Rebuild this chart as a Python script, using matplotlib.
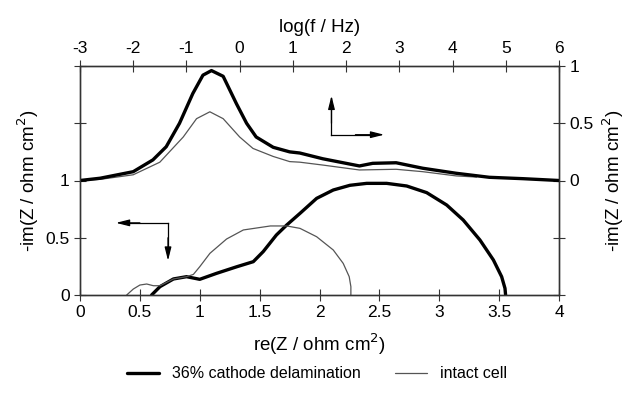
import numpy as np
import matplotlib
matplotlib.use("Agg")
import matplotlib.pyplot as plt

plt.rcParams['font.family'] = ['Liberation Sans', 'DejaVu Sans']
plt.rcParams['axes.unicode_minus'] = False

# Nyquist data (re, -im), ohm cm2
re_del = [0.598, 0.668, 0.78, 0.89, 1.0, 1.14, 1.31, 1.447, 1.53, 1.64, 1.726, 1.837,
          1.976, 2.115, 2.254, 2.394, 2.561, 2.728, 2.895, 3.062, 3.2, 3.34, 3.452,
          3.521, 3.549, 3.554]
im_del = [0.0, 0.073, 0.14, 0.16, 0.137, 0.189, 0.247, 0.291, 0.379, 0.524, 0.611, 0.713,
          0.844, 0.917, 0.958, 0.975, 0.975, 0.952, 0.894, 0.786, 0.655, 0.48, 0.306,
          0.16, 0.058, 0.0]

re_int = [0.39, 0.445, 0.50, 0.557, 0.613, 0.668, 0.78, 0.89, 0.947, 1.0, 1.085, 1.224,
          1.364, 1.59, 1.726, 1.837, 1.976, 2.115, 2.198, 2.248, 2.262, 2.262]
im_int = [0.0, 0.052, 0.087, 0.096, 0.081, 0.081, 0.14, 0.16, 0.18, 0.247, 0.364, 0.489,
          0.568, 0.603, 0.603, 0.582, 0.509, 0.393, 0.276, 0.16, 0.073, 0.0]

# Bode data (log f, -im)
lf_del = [-3.0, -2.62, -2.0, -1.63, -1.38, -1.13, -0.88, -0.69, -0.53, -0.31, -0.06, 0.13,
          0.31, 0.63, 0.94, 1.13, 1.56, 2.25, 2.5, 2.94, 3.44, 4.07, 4.69, 5.32, 6.0]
bd_del = [0.0, 0.02, 0.077, 0.18, 0.295, 0.5, 0.76, 0.92, 0.96, 0.91, 0.67, 0.5,
          0.38, 0.29, 0.25, 0.24, 0.19, 0.127, 0.15, 0.155, 0.107, 0.063, 0.028, 0.016, 0.0]

lf_int = [-3.0, -2.62, -2.0, -1.5, -1.06, -0.81, -0.56, -0.31, 0.0, 0.25, 0.63, 0.94,
          1.13, 1.56, 2.25, 2.94, 3.44, 4.07, 4.45]
bd_int = [0.0, 0.01, 0.05, 0.16, 0.38, 0.54, 0.60, 0.54, 0.38, 0.28, 0.21, 0.165,
          0.16, 0.135, 0.092, 0.098, 0.077, 0.04, 0.03]

fig = plt.figure(figsize=(6.34, 3.97), dpi=100)
ax = fig.add_axes([80/634, 1-295/397, (559-80)/634, (295-66)/397])
ax2 = ax.twinx()
ax3 = ax2.twiny()

lw_thick, lw_thin = 2.4, 0.9
c_thin = '#555555'
kw = dict(solid_joinstyle='round', solid_capstyle='round')

l1, = ax.plot(re_del, im_del, color='black', lw=lw_thick, **kw)
l2, = ax.plot(re_int, im_int, color=c_thin, lw=lw_thin, **kw)
ax3.plot(lf_int, bd_int, color=c_thin, lw=lw_thin, **kw)
ax3.plot(lf_del, bd_del, color='black', lw=lw_thick, **kw)

ax.set_xlim(0, 4)
ax.set_ylim(0, 2)
ax2.set_ylim(-1, 1)
ax3.set_xlim(-3, 6)

ax.set_xticks([0, 0.5, 1, 1.5, 2, 2.5, 3, 3.5, 4])
ax.set_xticklabels(['0', '0.5', '1', '1.5', '2', '2.5', '3', '3.5', '4'])
ax.set_yticks([0, 0.5, 1, 1.5, 2])
ax.set_yticklabels(['0', '0.5', '1', '', ''])
ax2.set_yticks([-1, -0.5, 0, 0.5, 1])
ax2.set_yticklabels(['', '', '0', '0.5', '1'])
ax3.set_xticks(range(-3, 7))

for a in (ax, ax2, ax3):
    a.tick_params(direction='inout', length=8, width=0.8, labelsize=12.5, color='#333333')
    for s in a.spines.values():
        s.set_color('#333333')
        s.set_linewidth(0.9)

ax.set_xlabel('re(Z / ohm cm$^2$)', fontsize=13.5, labelpad=8)
ax.set_ylabel('-im(Z / ohm cm$^2$)', fontsize=13.5, labelpad=3)
ax2.set_ylabel('-im(Z / ohm cm$^2$)', fontsize=13.5, labelpad=5)
ax3.set_xlabel('log(f / Hz)', fontsize=13.5, labelpad=6)

# arrows showing which axes belong to which curves
arr = dict(arrowstyle='-|>,head_length=0.8,head_width=0.2', color='black', lw=0.9,
           shrinkA=0, shrinkB=0)
ax.plot([2.10, 2.10], [1.72, 1.40], color='black', lw=0.9)
ax.annotate('', xy=(2.10, 1.74), xytext=(2.10, 1.50), arrowprops=arr)
ax.plot([2.10, 2.45], [1.40, 1.40], color='black', lw=0.9)
ax.annotate('', xy=(2.54, 1.40), xytext=(2.30, 1.40), arrowprops=arr)

ax.plot([0.40, 0.735], [0.63, 0.63], color='black', lw=0.9)
ax.annotate('', xy=(0.30, 0.63), xytext=(0.50, 0.63), arrowprops=arr)
ax.plot([0.735, 0.735], [0.63, 0.36], color='black', lw=0.9)
ax.annotate('', xy=(0.735, 0.30), xytext=(0.735, 0.50), arrowprops=arr)

fig.legend([l1, l2], ['36% cathode delamination', 'intact cell'], loc='center',
           bbox_to_anchor=(0.5, 1-374/397), ncol=2, frameon=False, fontsize=11.5,
           handlelength=2.0, columnspacing=2.2)

fig.savefig('out.png', dpi=100)
